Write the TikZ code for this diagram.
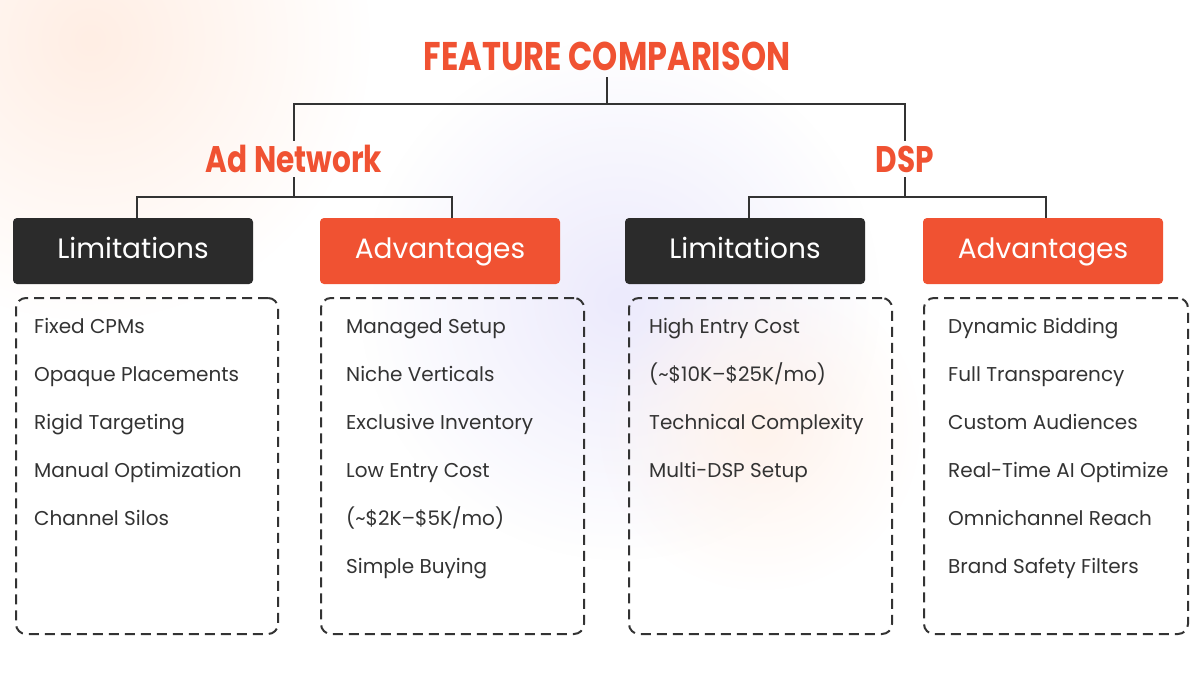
\documentclass[tikz,border=0pt]{standalone}
\usepackage{fontspec}
\setmainfont{Poppins}
\newfontfamily\condfont{Poppins}[FakeStretch=0.8]
\usetikzlibrary{positioning,fadings}

\definecolor{brandorange}{RGB}{240,82,50}
\definecolor{boxdark}{RGB}{43,43,43}
\definecolor{inkgray}{RGB}{51,51,51}
\definecolor{haze}{RGB}{236,234,252}
\definecolor{peach}{RGB}{255,238,228}

\tikzfading[name=glow,inner color=transparent!0,outer color=transparent!100]

\begin{document}
\begin{tikzpicture}[x=1pt,y=-1pt,
     every node/.style={inner sep=0pt},
     link/.style={draw=inkgray,line width=2pt},
     title/.style={text=brandorange,font=\condfont\bfseries\fontsize{40}{40}\selectfont,
       text height=28pt,text depth=0pt,inner sep=7pt},
     platform/.style={text=brandorange,font=\condfont\bfseries\fontsize{37}{37}\selectfont,
       text height=26pt,text depth=0pt,inner sep=5pt},
     tab/.style={rectangle,rounded corners=4pt,minimum width=240pt,minimum height=66pt,
       text height=20pt,text depth=6pt,text=white,font=\fontsize{28}{28}\selectfont},
     limtab/.style={tab,fill=boxdark},
     advtab/.style={tab,fill=brandorange},
     listbox/.style={rectangle,draw=inkgray,line width=2pt,dash pattern=on 10pt off 6pt,
       rounded corners=10pt,minimum height=336pt},
     item/.style={anchor=base west,text=inkgray,font=\fontsize{20}{24}\selectfont}]

    % background
    \useasboundingbox (0,0) rectangle (1200,675);
    \fill[white] (0,0) rectangle (1200,675);
    \begin{scope}
      \clip (0,0) rectangle (1200,675);
      \fill[peach,path fading=glow] (90,40) circle (280);
      \fill[haze,path fading=glow] (620,300) circle (260);
      \fill[peach!70,path fading=glow] (760,430) circle (160);
    \end{scope}

    \node[title] (title) at (607,56) {FEATURE COMPARISON};

    \node[platform] (adnet) at (294,159) {Ad Network};
    \node[platform] (dsp) at (905,159) {DSP};

    \node[limtab] (anlim) at (133,251) {Limitations};
    \node[advtab] (anadv) at (440,251) {Advantages};
    \node[limtab] (dsplim) at (745,251) {Limitations};
    \node[advtab] (dspadv) at (1043,251) {Advantages};

    \coordinate (topsplit) at (607,104);
    \coordinate (ansplit) at (294,197);
    \coordinate (dspsplit) at (905,197);

    \draw[link] (title.south) -- (topsplit);
    \draw[link] (adnet.north) |- (topsplit) -| (dsp.north);
    \draw[link] (adnet.south) -- (ansplit);
    \draw[link] ([xshift=4pt]anlim.north) |- (ansplit) -| ([xshift=12pt]anadv.north);
    \draw[link] (dsp.south) -- (dspsplit);
    \draw[link] ([xshift=4pt]dsplim.north) |- (dspsplit) -| ([xshift=3pt]dspadv.north);

    \node[listbox,minimum width=262pt] (anlimlist) at (147,466) {};
    \node[listbox,minimum width=263pt] (anadvlist) at (452.5,466) {};
    \node[listbox,minimum width=263pt] (dsplimlist) at (760.5,466) {};
    \node[listbox,minimum width=264pt] (dspadvlist) at (1056,466) {};

    \foreach \txt [count=\i] in {Fixed CPMs,Opaque Placements,Rigid Targeting,
        Manual Optimization,Channel Silos}
      \node[item] (anlim-\i) at (34,285+48*\i) {\txt};

    \foreach \txt [count=\i] in {Managed Setup,Niche Verticals,Exclusive Inventory,
        Low Entry Cost,(\textasciitilde\$2K--\$5K/mo),Simple Buying}
      \node[item] (anadv-\i) at (346,285+48*\i) {\txt};

    \foreach \txt [count=\i] in {High Entry Cost,(\textasciitilde\$10K--\$25K/mo),
        Technical Complexity,Multi-DSP Setup}
      \node[item] (dsplim-\i) at (649,285+48*\i) {\txt};

    \foreach \txt [count=\i] in {Dynamic Bidding,Full Transparency,Custom Audiences,
        Real-Time AI Optimize,Omnichannel Reach,Brand Safety Filters}
      \node[item] (dspadv-\i) at (948,285+48*\i) {\txt};

  \end{tikzpicture}
\end{document}
